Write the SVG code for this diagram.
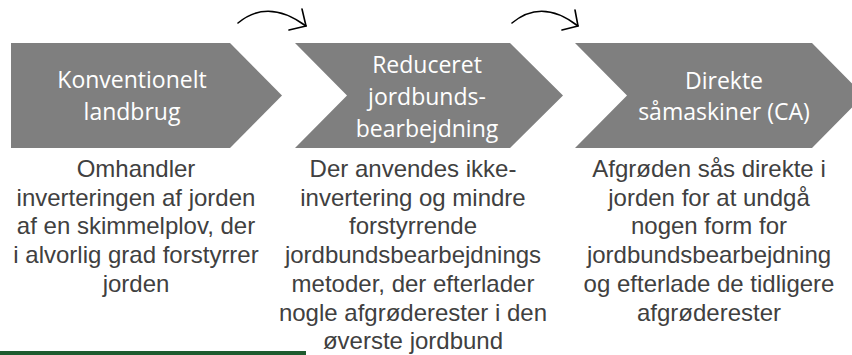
<svg xmlns="http://www.w3.org/2000/svg" width="852" height="355" viewBox="0 0 852 355">
<style>
.shape{fill:#7f7f7f}
.title{font-family:"Open Sans","Liberation Sans",sans-serif;font-size:23px;fill:#ffffff;text-anchor:middle}
.desc{font-family:"Liberation Sans",Arial,sans-serif;font-size:24px;fill:#404040;text-anchor:middle}
.conn{fill:none;stroke:#000000;stroke-width:1.6;stroke-linecap:round;stroke-linejoin:round}
</style>
<rect width="852" height="355" fill="#ffffff"/>
<g id="node1">
<path class="shape" d="M11,43 H230 L282,95.5 L230,148 H11 Z"/>
<text class="title" x="132" y="88">Konventionelt</text>
<text class="title" x="132" y="120">landbrug</text>
<text class="desc" x="136" y="177">Omhandler</text>
<text class="desc" x="136" y="205.7">inverteringen af jorden</text>
<text class="desc" x="136" y="234.4">af en skimmelplov, der</text>
<text class="desc" x="136" y="263.1">i alvorlig grad forstyrrer</text>
<text class="desc" x="136" y="291.8">jorden</text>
</g>
<g id="node2">
<path class="shape" d="M295,43 H510 L563,95.5 L510,148 H295 L347,95.5 Z"/>
<text class="title" x="427" y="73">Reduceret</text>
<text class="title" x="427" y="105">jordbunds-</text>
<text class="title" x="427" y="137">bearbejdning</text>
<text class="desc" x="413" y="177">Der anvendes ikke-</text>
<text class="desc" x="413" y="205.7">invertering og mindre</text>
<text class="desc" x="413" y="234.4">forstyrrende</text>
<text class="desc" x="413" y="263.1">jordbundsbearbejdnings</text>
<text class="desc" x="413" y="291.8">metoder, der efterlader</text>
<text class="desc" x="413" y="320.5">nogle afgrøderester i den</text>
<text class="desc" x="413" y="349.2">øverste jordbund</text>
</g>
<g id="node3">
<path class="shape" d="M575,43 H812 L864,95.5 L812,148 H575 L627,95.5 Z"/>
<text class="title" x="724" y="89">Direkte</text>
<text class="title" x="724" y="120">såmaskiner (CA)</text>
<text class="desc" x="709" y="177">Afgrøden sås direkte i</text>
<text class="desc" x="709" y="205.7">jorden for at undgå</text>
<text class="desc" x="709" y="234.4">nogen form for</text>
<text class="desc" x="709" y="263.1">jordbundsbearbejdning</text>
<text class="desc" x="709" y="291.8">og efterlade de tidligere</text>
<text class="desc" x="709" y="320.5">afgrøderester</text>
</g>
<g id="connectors">
<path class="conn" d="M238,23 Q268,-2 306,26"/>
<path class="conn" d="M302,9 L306,26 L289,30"/>
<path class="conn" d="M512,23 Q542,-2 578,26"/>
<path class="conn" d="M575,10 L578,26 L562,30"/>
</g>
<rect x="0" y="351" width="306" height="4" fill="#1e5b2f"/>
</svg>
